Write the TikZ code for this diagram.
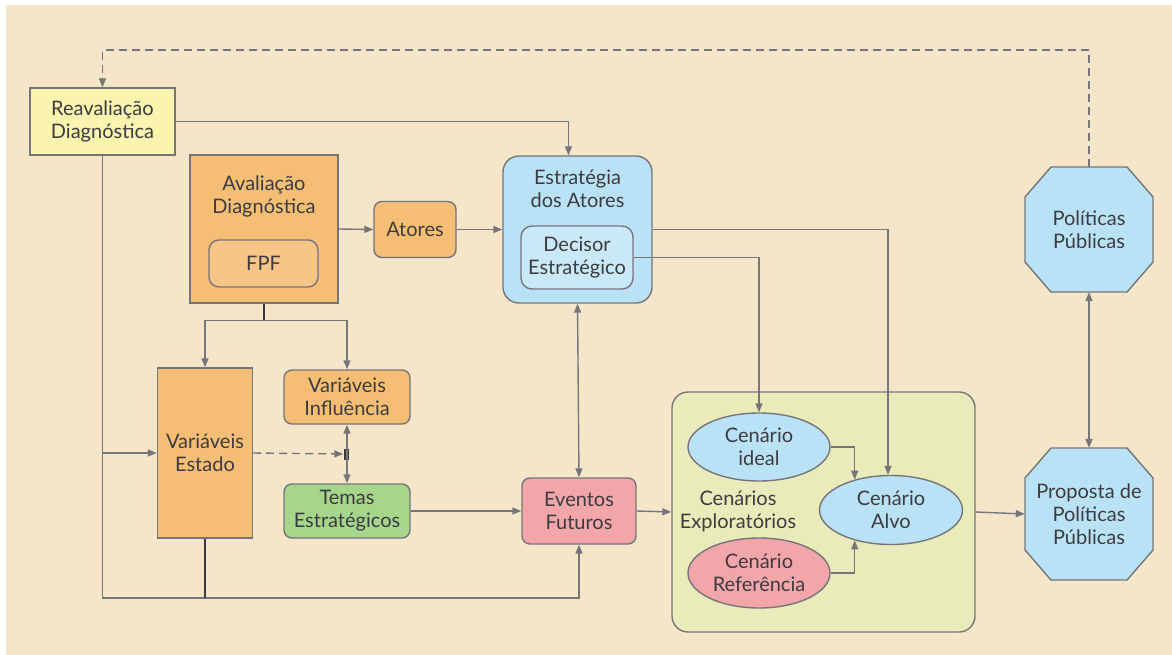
\documentclass[tikz,border=0pt]{standalone}
\usepackage{fontspec}
\setmainfont{Lato}
\usetikzlibrary{arrows.meta,shapes.geometric,calc}
\definecolor{bg}{HTML}{F5E5C9}
\definecolor{ln}{HTML}{75757A}
\definecolor{dk}{HTML}{3A3A3A}
\definecolor{txt}{HTML}{3C3C40}
\definecolor{yel}{HTML}{FBF4AE}
\definecolor{ora}{HTML}{F5BE74}
\definecolor{oral}{HTML}{F7C686}
\definecolor{blu}{HTML}{BAE2F6}
\definecolor{blul}{HTML}{C9E9F8}
\definecolor{gre}{HTML}{A6D58C}
\definecolor{pnk}{HTML}{F2A6A9}
\definecolor{cen}{HTML}{E9EBBA}
\tikzset{
  box/.style={draw=ln, line width=1.4pt, align=center, text=txt, font=\fontsize{20}{23}\selectfont, inner sep=0pt},
  rbox/.style={box, rounded corners=8pt},
  ell/.style={box, ellipse, fill=blu},
  conn/.style={draw=ln, line width=1.4pt},
  darkconn/.style={draw=dk, line width=1.4pt},
  arr/.style={conn, -{Triangle[length=9pt,width=7pt]}},
  darr/.style={conn, {Triangle[length=9pt,width=7pt]}-{Triangle[length=9pt,width=7pt]}},
  dashconn/.style={conn, dash pattern=on 8pt off 5pt},
  octo/.style={draw=ln, line width=1.4pt, fill=blu},
  lbl/.style={align=center, text=txt, font=\fontsize{20}{23}\selectfont, inner sep=0pt}
}
\begin{document}
\begin{tikzpicture}[x=1pt,y=-1pt]
\useasboundingbox (0,0) rectangle (1172,655);
\fill[white] (0,0) rectangle (1172,655);
\fill[bg] (6,5) rectangle (1172,655);

% octagons
\filldraw[octo] (1051,167) -- (1127,167) -- (1153,197) -- (1153,262) -- (1127,292) -- (1051,292) -- (1025,262) -- (1025,197) -- cycle;
\filldraw[octo] (1051,448) -- (1127,448) -- (1153,478) -- (1153,550) -- (1127,580) -- (1051,580) -- (1025,550) -- (1025,478) -- cycle;
\node[lbl, minimum width=128pt, minimum height=125pt] (pol) at (1089,229.5) {Políticas\\Públicas};
\node[lbl, minimum width=128pt, minimum height=132pt] (prop) at (1089,514) {Proposta de\\Políticas\\Públicas};

% boxes
\node[box, fill=yel, minimum width=145pt, minimum height=67pt] (reav) at (102.5,121.5) {Reavaliação\\Diagnóstica};
\node[box, fill=ora, minimum width=148pt, minimum height=148pt] (aval) at (264,229) {};
\node[lbl] (avalt) at (264,196) {Avaliação\\Diagnóstica};
\node[rbox, fill=oral, rounded corners=10pt, minimum width=109pt, minimum height=47pt] (fpf) at (263.5,263.5) {FPF};
\node[rbox, fill=ora, minimum width=82pt, minimum height=56pt] (atores) at (415,229.5) {Atores};
\node[box, fill=blu, rounded corners=16pt, minimum width=149pt, minimum height=147pt] (estr) at (577.5,229.5) {};
\node[lbl] (estrt) at (577.5,189) {Estratégia\\dos Atores};
\node[rbox, fill=blul, rounded corners=11pt, minimum width=112pt, minimum height=63pt] (dec) at (577,257.5) {Decisor\\Estratégico};
\node[box, fill=ora, minimum width=95pt, minimum height=170pt] (estado) at (205,453) {Variáveis\\Estado};
\node[rbox, fill=ora, minimum width=126pt, minimum height=54pt] (infl) at (347,397) {Variáveis\\Influência};
\node[rbox, fill=gre, minimum width=126pt, minimum height=54pt] (temas) at (347,511) {Temas\\Estratégicos};
\node[rbox, fill=pnk, minimum width=114pt, minimum height=66pt] (even) at (579,511) {Eventos\\Futuros};
\node[box, fill=cen, rounded corners=16pt, minimum width=303pt, minimum height=240pt] (cenb) at (823.5,512) {};
\node[ell, minimum width=142pt, minimum height=68pt] (ideal) at (759,447) {Cenário\\ideal};
\node[ell, fill=pnk, minimum width=142pt, minimum height=70pt] (ref) at (759,573) {Cenário\\Referência};
\node[ell, minimum width=143pt, minimum height=69pt] (alvo) at (891,510) {Cenário\\Alvo};
\node[lbl] (expl) at (738,511) {Cenários\\Exploratórios};
\node[fill=dk, inner sep=0pt, minimum width=5pt, minimum height=11pt] (junc) at (346,454) {};

% connectors
\draw[dashconn, -{Triangle[length=9pt,width=7pt]}] (pol.north) -- (pol.north |- 0,50) -| (reav.north);
\draw[arr] (reav.east) -| ([xshift=-9pt]estr.north);
\draw[arr] (reav.south) -- (reav.south |- 0,598) -| (even.south);
\draw[arr] (reav.south |- estado.west) -- (estado.west);
\draw[arr] (aval.east) -- (atores.west);
\draw[arr] (atores.east) -- (estr.west);
\draw[darkconn] (aval.south) -- ++(0,17) coordinate (split);
\draw[arr] (split) -| (estado.north);
\draw[arr] (split) -| (infl.north);
\draw[darkconn] (estado.south) -- (estado.south |- 0,598);
\draw[dashconn, -{Triangle[length=9pt,width=7pt]}] (estado.east) -- (junc.west);
\draw[darr] (infl.south) -- (temas.north);
\draw[arr] (temas.east) -- (even.west);
\draw[darr] (estr.south) -- (even.north);
\draw[arr] (even.east) -- (cenb.west);
\draw[arr] (estr.east) -| ([xshift=-3pt]alvo.north);
\draw[arr] (dec.east) -| (ideal.north);
\draw[arr] (ideal.east) -| (alvo.140);
\draw[arr] (ref.east) -| (alvo.220);
\draw[arr] (cenb.east) -- (prop.west);
\draw[darr] (pol.south) -- (prop.north);
\end{tikzpicture}
\end{document}
